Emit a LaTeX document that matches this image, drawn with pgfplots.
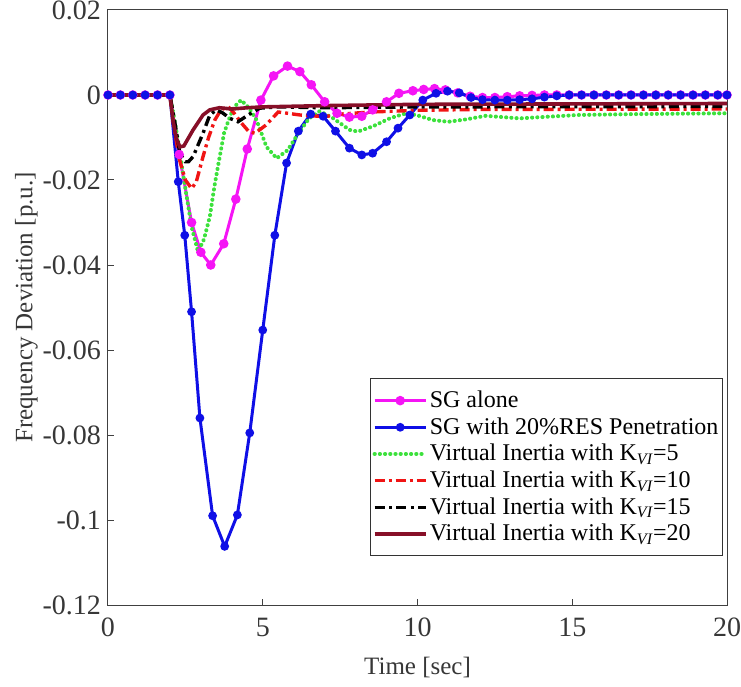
\documentclass[border=0pt]{standalone}
\usepackage{fontspec}
\setmainfont{Liberation Serif}
\usepackage{pgfplots}
\pgfplotsset{compat=1.18}
\definecolor{cmag}{RGB}{245,20,245}
\definecolor{cblue}{RGB}{15,15,230}
\definecolor{cgreen}{RGB}{60,225,60}
\definecolor{cred}{RGB}{240,20,20}
\definecolor{cmaroon}{RGB}{135,15,40}
\definecolor{ctext}{RGB}{55,55,55}
\begin{document}
\begin{tikzpicture}
\begin{axis}[
  scale only axis,
  width=309.5pt, height=297.5pt,
  xmin=0, xmax=20, ymin=-0.12, ymax=0.02,
  xtick={0,5,10,15,20},
  ytick={-0.12,-0.1,-0.08,-0.06,-0.04,-0.02,0,0.02},
  yticklabels={-0.12,-0.1,-0.08,-0.06,-0.04,-0.02,0,0.02},
  xticklabels={0,5,10,15,20},
  xtick pos=bottom, ytick pos=left,
  tick align=inside,
  major tick length=3pt,
  axis line style={black!75, line width=0.5pt},
  tick style={black!75, line width=0.5pt},
  tick label style={font=\fontsize{14}{16}\selectfont, text=ctext},
  xticklabel style={yshift=-3pt},
  label style={font=\fontsize{12.5}{14}\selectfont, text=ctext},
  xlabel={Time [sec]},
  ylabel={Frequency Deviation [p.u.]},
  xlabel style={yshift=-3pt},
  ylabel style={yshift=-4.5pt},
  legend cell align=left,
  legend style={at={(rel axis cs:0.9935,0.082)}, anchor=south east,
    font=\fontsize{12}{14}\selectfont, draw=black!80, line width=0.5pt,
    inner xsep=1pt, inner ysep=4pt, row sep=-0.5pt,
    nodes={inner xsep=1pt}},
  legend image code/.code={\draw[#1, mark repeat=2, mark phase=2] plot coordinates {(0cm,0cm) (0.45cm,0cm) (0.9cm,0cm)};},
]
% SG alone
\addplot[cmag, line width=1.5pt, mark=*, mark size=1.6pt] coordinates {
(0,0) (0.4,0) (0.8,0) (1.2,0) (1.6,0) (2.0,0) (2.3,-0.014) (2.7,-0.030) (3.0,-0.037) (3.32,-0.040)
(3.74,-0.035) (4.13,-0.0245) (4.5,-0.0127) (4.94,-0.0012) (5.35,0.0045) (5.8,0.0068) (6.2,0.0055)
(6.57,0.0024) (7.0,-0.0016) (7.4,-0.0043) (7.8,-0.0052) (8.2,-0.0050) (8.55,-0.0035) (9.0,-0.0016)
(9.4,0.0004) (9.85,0.0010) (10.2,0.0013) (10.55,0.0015) (10.9,0.0012) (11.3,0.0005) (11.7,-0.0003)
(12.1,-0.0006) (12.5,-0.0006) (12.9,-0.0004) (13.3,-0.0002) (13.7,-0.0001) (14.1,0) (14.5,0)
(14.9,0) (15.3,0) (15.7,0) (16.1,0) (16.5,0) (16.9,0) (17.3,0) (17.7,0) (18.1,0) (18.5,0) (18.9,0)
(19.3,0) (19.7,0) (20,0)
};
\addlegendentry{SG alone}
% SG with 20% RES
\addplot[cblue, line width=1.5pt, mark=*, mark size=1.4pt] coordinates {
(0,0) (0.4,0) (0.8,0) (1.2,0) (1.6,0) (2.0,0) (2.27,-0.0204) (2.48,-0.033) (2.7,-0.051) (2.97,-0.076)
(3.38,-0.099) (3.77,-0.1062) (4.18,-0.0988) (4.58,-0.0795) (5.0,-0.0553) (5.39,-0.033) (5.77,-0.016)
(6.15,-0.0085) (6.55,-0.0045) (6.95,-0.0050) (7.35,-0.0085) (7.8,-0.0125) (8.2,-0.0141) (8.55,-0.0137)
(9.0,-0.0110) (9.37,-0.0078) (9.75,-0.0047) (10.17,-0.0012) (10.6,0.0004) (10.97,0.0009) (11.35,0.0005)
(11.73,-0.0006) (12.1,-0.0011) (12.5,-0.0012) (12.9,-0.0012) (13.3,-0.0011) (13.7,-0.0009) (14.1,-0.0005)
(14.5,-0.0002) (14.9,0) (15.3,0) (15.7,0) (16.1,0) (16.5,0) (16.9,0) (17.3,0) (17.7,0) (18.1,0)
(18.5,0) (18.9,0) (19.3,0) (19.7,0) (20,0)
};
\addlegendentry{SG with 20\%RES Penetration}
% K=5
\addplot[cgreen, line width=2pt, dash pattern=on 0.1pt off 2.5pt, line cap=round] coordinates {
(0,0) (2.0,0) (2.2,-0.008) (2.5,-0.022) (2.7,-0.031) (2.91,-0.0369) (3.1,-0.034) (3.29,-0.0286)
(3.45,-0.021) (3.61,-0.0145) (3.75,-0.009) (3.88,-0.0063) (4.05,-0.0030) (4.3,-0.0012) (4.55,-0.0030)
(4.8,-0.0059) (5.12,-0.0122) (5.45,-0.0149) (5.8,-0.0130) (6.19,-0.0086) (6.5,-0.0055) (6.84,-0.0038)
(7.26,-0.0054) (7.8,-0.0082) (8.07,-0.0086) (8.55,-0.0074) (9.1,-0.0055) (9.63,-0.0043) (10.0,-0.0048)
(10.5,-0.0059) (11.0,-0.0063) (11.6,-0.0057) (12.2,-0.0049) (13.3,-0.0055) (14.0,-0.0052) (15.2,-0.0047)
(17,-0.0045) (20,-0.0043)
};
\addlegendentry{Virtual Inertia with K\textsubscript{\itshape VI}=5}
% K=10
\addplot[cred, line width=1.7pt, dash pattern=on 5pt off 2pt on 1.5pt off 2pt] coordinates {
(0,0) (2.0,0) (2.1,-0.006) (2.3,-0.015) (2.5,-0.020) (2.7,-0.022) (2.85,-0.0205) (3.07,-0.0145)
(3.25,-0.010) (3.45,-0.0059) (3.65,-0.0035) (3.88,-0.0027) (4.1,-0.0045) (4.3,-0.0065) (4.55,-0.0086)
(4.75,-0.0090) (5.1,-0.0071) (5.5,-0.0040) (6.2,-0.0047) (7.0,-0.0051) (7.5,-0.0045) (8.5,-0.0040)
(10,-0.0036) (12,-0.0034) (20,-0.0033)
};
\addlegendentry{Virtual Inertia with K\textsubscript{\itshape VI}=10}
% K=15
\addplot[black, line width=1.7pt, dash pattern=on 5pt off 2.2pt on 1.5pt off 2.2pt] coordinates {
(0,0) (2.0,0) (2.15,-0.006) (2.32,-0.0137) (2.5,-0.0157) (2.6,-0.0157) (2.75,-0.0145) (3.07,-0.009)
(3.29,-0.0047) (3.5,-0.0035) (3.7,-0.0042) (3.94,-0.0055) (4.2,-0.0063) (4.53,-0.0047) (4.9,-0.0031)
(5.5,-0.0028) (7,-0.0030) (10,-0.0028) (20,-0.0027)
};
\addlegendentry{Virtual Inertia with K\textsubscript{\itshape VI}=15}
% K=20
\addplot[cmaroon, line width=1.8pt] coordinates {
(0,0) (2.0,0) (2.1,-0.006) (2.2,-0.010) (2.32,-0.0122) (2.45,-0.0120) (2.75,-0.0082) (3.07,-0.0047)
(3.29,-0.0035) (3.6,-0.0030) (4.0,-0.0033) (4.5,-0.0030) (5.0,-0.0028) (7,-0.0025) (10,-0.0022) (20,-0.0020)
};
\addlegendentry{Virtual Inertia with K\textsubscript{\itshape VI}=20}
\end{axis}
\pgfresetboundingbox
\path ([xshift=-54pt,yshift=-40.5pt]current axis.south west) rectangle ([xshift=7pt,yshift=5pt]current axis.north east);
\end{tikzpicture}
\end{document}
